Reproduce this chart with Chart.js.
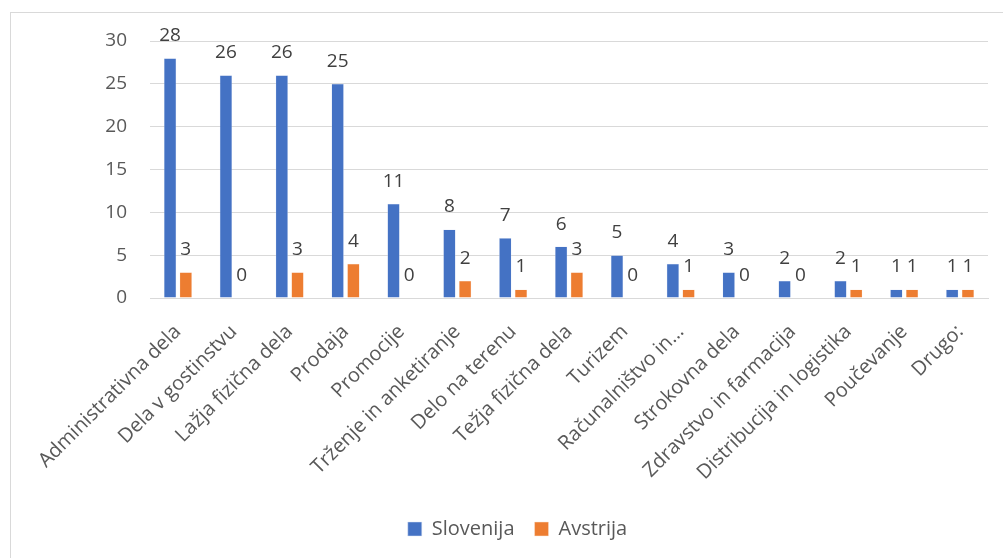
<!DOCTYPE html>
<html>
<head>
    <title>Vrsta dela</title>
    <script src="https://cdn.jsdelivr.net/npm/chart.js"></script>
    <style>
        body { margin: 0; overflow: hidden; background: #fff; }
        #frame {
            position: absolute; left: 10px; top: 12px;
            width: 1014px; height: 560px;
            border: 1px solid #d9d9d9;
        }
    </style>
</head>
<body>
    <div id="frame"><canvas id="jobChart" width="1014" height="560"></canvas></div>

    <script>
        const categories = [
            'Administrativna dela', 'Dela v gostinstvu', 'Lažja fizična dela', 'Prodaja',
            'Promocije', 'Trženje in anketiranje', 'Delo na terenu', 'Težja fizična dela',
            'Turizem', 'Računalništvo in…', 'Strokovna dela', 'Zdravstvo in farmacija',
            'Distribucija in logistika', 'Poučevanje', 'Drugo:'
        ];
        const slovenija = [28, 26, 26, 25, 11, 8, 7, 6, 5, 4, 3, 2, 2, 1, 1];
        const avstrija = [3, 0, 3, 4, 0, 2, 1, 3, 0, 1, 0, 0, 1, 1, 1];
        const yTicks = [0, 5, 10, 15, 20, 25, 30];

        const font = 'Open Sans';

        // values above each bar
        const barLabels = {
            id: 'barLabels',
            afterDatasetsDraw(chart) {
                const ctx = chart.ctx;
                ctx.save();
                ctx.fillStyle = '#404040';
                ctx.font = '19px "' + font + '"';
                ctx.textAlign = 'center';
                ctx.textBaseline = 'alphabetic';
                chart.data.datasets.forEach((ds, i) => {
                    chart.getDatasetMeta(i).data.forEach((bar, j) => {
                        ctx.fillText(ds.data[j], bar.x, bar.y - 17);
                    });
                });
                ctx.restore();
            }
        };

        new Chart(document.getElementById('jobChart'), {
            type: 'bar',
            data: {
                labels: categories,
                datasets: [{
                    label: 'Slovenija',
                    data: slovenija,
                    backgroundColor: '#4472C4',
                    borderColor: '#dbe4f5',
                    borderWidth: 0.5,
                    categoryPercentage: 0.563,
                    barPercentage: 0.79
                }, {
                    label: 'Avstrija',
                    data: avstrija,
                    backgroundColor: '#ED7D31',
                    borderColor: '#fbe5d6',
                    borderWidth: 0.5,
                    categoryPercentage: 0.563,
                    barPercentage: 0.79
                }]
            },
            options: {
                responsive: false,
                animation: false,
                layout: { padding: { left: 36, right: 37, top: 28, bottom: 24 } },
                plugins: {
                    tooltip: { enabled: false },
                    legend: {
                        position: 'bottom',
                        labels: {
                            color: '#595959',
                            font: { family: font, size: 20 },
                            boxWidth: 14,
                            boxHeight: 14,
                            padding: 20
                        }
                    }
                },
                scales: {
                    x: {
                        grid: { display: false },
                        border: { color: '#d9d9d9', width: 1 },
                        ticks: {
                            color: '#595959',
                            font: { family: font, size: 20 },
                            autoSkip: false,
                            maxRotation: 45,
                            minRotation: 45,
                            padding: 14
                        },
                        afterFit(scale) { scale.height = 201; }
                    },
                    y: {
                        min: 0,
                        max: 30,
                        afterBuildTicks(scale) { scale.ticks = yTicks.map(v => ({ value: v })); },
                        grid: { color: '#d9d9d9', lineWidth: 1, drawTicks: false },
                        border: { display: false },
                        ticks: {
                            color: '#595959',
                            font: { family: font, size: 19 },
                            padding: 23
                        },
                        afterFit(scale) {
                            scale.width = 103;
                            scale.paddingTop = 0;
                            scale.paddingBottom = 0;
                        }
                    }
                }
            },
            plugins: [barLabels]
        });
    </script>
</body>
</html>
